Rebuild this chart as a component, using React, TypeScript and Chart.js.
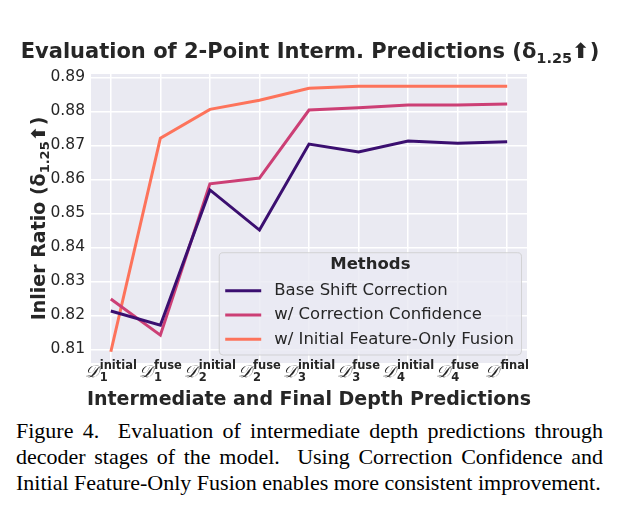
import React, { useEffect, useRef } from "react";
import { Chart, registerables } from "chart.js";
Chart.register(...registerables);

const stages = ["initial", "fuse", "initial", "fuse", "initial", "fuse", "initial", "fuse", "final"];
const stageIndex = ["1", "1", "2", "2", "3", "3", "4", "4", ""];
const seriesNames = ["Base Shift Correction", "w/ Correction Confidence", "w/ Initial Feature-Only Fusion"];
const baseShift = [0.8213, 0.8171, 0.8569, 0.8451, 0.8704, 0.8681, 0.8713, 0.8706, 0.8711];
const corrConf = [0.8248, 0.8142, 0.8587, 0.8604, 0.8804, 0.8811, 0.8819, 0.8819, 0.8822];
const initFusion = [0.8093, 0.8721, 0.8806, 0.8833, 0.8868, 0.8874, 0.8874, 0.8874, 0.8874];
const yTicks = [0.81, 0.82, 0.83, 0.84, 0.85, 0.86, 0.87, 0.88, 0.89];
const colors = ["#3b0f70", "#cc3f75", "#fd735b"];

const TEXT = "#262626";
const SANS = '"DejaVu Sans", sans-serif';

type Seg = { t: string; f: string; dy?: number };

function drawRich(ctx: CanvasRenderingContext2D, segs: Seg[], cx: number, y: number) {
  let w = 0;
  for (const s of segs) { ctx.font = s.f; w += ctx.measureText(s.t).width; }
  let x = cx - w / 2;
  ctx.textAlign = "left";
  ctx.textBaseline = "alphabetic";
  for (const s of segs) {
    ctx.font = s.f;
    ctx.fillText(s.t, x, y + (s.dy || 0));
    x += ctx.measureText(s.t).width;
  }
}

const deco = {
  id: "deco",
  beforeDraw(chart: any) {
    const { ctx, chartArea: a } = chart;
    ctx.save();
    ctx.fillStyle = "#eaeaf2";
    ctx.fillRect(a.left, a.top, a.right - a.left, a.bottom - a.top);
    ctx.restore();
  },
  afterDraw(chart: any) {
    const { ctx, chartArea: a } = chart;
    const xs = chart.scales.x;
    ctx.save();
    ctx.fillStyle = TEXT;
    // title
    drawRich(ctx, [
      { t: "Evaluation of 2-Point Interm. Predictions (δ", f: `bold 21px ${SANS}` },
      { t: "1.25", f: `bold 14.5px ${SANS}`, dy: 5 },
      { t: "⬆)", f: `bold 21px ${SANS}` },
    ], 310, 58);
    // y label
    ctx.save();
    ctx.translate(45, (a.top + a.bottom) / 2);
    ctx.rotate(-Math.PI / 2);
    drawRich(ctx, [
      { t: "Inlier Ratio (δ", f: `bold 19px ${SANS}` },
      { t: "1.25", f: `bold 13px ${SANS}`, dy: 4 },
      { t: "⬆)", f: `bold 19px ${SANS}` },
    ], 0, 0);
    ctx.restore();
    // x tick labels
    stages.forEach((st, i) => {
      const px = xs.getPixelForValue(i);
      const dFont = `italic 17px "DejaVu Serif", serif`;
      const supFont = `bold 11.5px ${SANS}`;
      const subFont = `bold 11.5px ${SANS}`;
      ctx.font = dFont;
      const wD = ctx.measureText("𝒟").width;
      ctx.font = supFont;
      const wSup = ctx.measureText(st).width;
      ctx.font = subFont;
      const wSub = ctx.measureText(stageIndex[i]).width;
      const w = wD + 1 + Math.max(wSup, wSub);
      const x0 = px - w / 2;
      ctx.textAlign = "left";
      ctx.textBaseline = "alphabetic";
      ctx.font = dFont;
      ctx.fillText("𝒟", x0, 377);
      ctx.font = supFont;
      ctx.fillText(st, x0 + wD + 1, 369);
      if (stageIndex[i]) {
        ctx.font = subFont;
        ctx.fillText(stageIndex[i], x0 + wD + 1, 381);
      }
    });
    // x title
    drawRich(ctx, [{ t: "Intermediate and Final Depth Predictions", f: `bold 19px ${SANS}` }], (a.left + a.right) / 2, 405);
    // legend
    ctx.font = `16.5px ${SANS}`;
    let tw = 0;
    seriesNames.forEach((n) => { tw = Math.max(tw, ctx.measureText(n).width); });
    const right = a.right - 5.5;
    const bottom = a.bottom - 8;
    const lw = 6 + 36 + 13 + tw + 7.5;
    const lh = 102.3;
    const left = right - lw;
    const top = bottom - lh;
    ctx.beginPath();
    ctx.roundRect(left, top, lw, lh, 4);
    ctx.fillStyle = "rgba(234,234,242,0.8)";
    ctx.fill();
    ctx.strokeStyle = "rgba(204,204,204,0.8)";
    ctx.lineWidth = 1;
    ctx.stroke();
    ctx.fillStyle = TEXT;
    ctx.font = `bold 16.5px ${SANS}`;
    ctx.textAlign = "center";
    ctx.textBaseline = "middle";
    ctx.fillText("Methods", left + lw / 2, top + 12.5);
    seriesNames.forEach((n, k) => {
      const yy = top + 38 + k * 24.3;
      ctx.strokeStyle = colors[k];
      ctx.lineWidth = 3;
      ctx.beginPath();
      ctx.moveTo(left + 6, yy);
      ctx.lineTo(left + 42, yy);
      ctx.stroke();
      ctx.fillStyle = TEXT;
      ctx.font = `16.5px ${SANS}`;
      ctx.textAlign = "left";
      ctx.fillText(n, left + 55, yy);
    });
    ctx.restore();
  },
};

export default function App() {
  const ref = useRef<HTMLCanvasElement | null>(null);
  useEffect(() => {
    const canvas = ref.current!;
    const all = [baseShift, corrConf, initFusion];
    const chart = new Chart(canvas, {
      type: "line",
      data: {
        datasets: all.map((s, k) => ({
          label: seriesNames[k],
          data: s.map((v, i) => ({ x: i, y: v })),
          borderColor: colors[k],
          backgroundColor: colors[k],
          borderWidth: 3,
          pointRadius: 0,
          tension: 0,
          fill: false,
        })),
      },
      options: {
        responsive: false,
        animation: false,
        layout: { padding: { top: 74, right: 103, bottom: 49, left: 0 } },
        plugins: { legend: { display: false }, title: { display: false }, tooltip: { enabled: false } },
        scales: {
          x: {
            type: "linear",
            min: -0.4,
            max: 8.4,
            afterBuildTicks: (s: any) => { s.ticks = stages.map((_, i) => ({ value: i })); },
            afterFit: (s: any) => { s.height = 0; },
            ticks: { display: false },
            grid: { color: "#ffffff", lineWidth: 1.5, drawTicks: false },
            border: { display: false },
          },
          y: {
            type: "linear",
            min: 0.806,
            max: 0.891,
            afterBuildTicks: (s: any) => { s.ticks = yTicks.map((v) => ({ value: v })); },
            afterFit: (s: any) => { s.width = 91; },
            ticks: {
              font: { family: "DejaVu Sans", size: 15.5 },
              color: TEXT,
              padding: 6,
              callback: (v: any) => Number(v).toFixed(2),
            },
            grid: { color: "#ffffff", lineWidth: 1.5, drawTicks: false },
            border: { display: false },
          },
        },
      } as any,
      plugins: [deco],
    });
    return () => chart.destroy();
  }, []);

  const cap: React.CSSProperties = {
    fontFamily: '"Liberation Serif", serif',
    fontSize: 22,
    lineHeight: "26px",
    color: "#000",
    whiteSpace: "nowrap",
  };
  const just: React.CSSProperties = { ...cap, textAlign: "justify", textAlignLast: "justify" as any, whiteSpace: "normal" };

  return (
    <div style={{ position: "fixed", left: 0, top: 0, width: 630, height: 509, background: "#fff" }}>
      <canvas ref={ref} width={630} height={412} style={{ width: 630, height: 412, display: "block" }} />
      <div style={{ position: "absolute", left: 16, top: 418, width: 587 }}>
        <div style={just}>Figure 4.{"\u00a0 "}Evaluation of intermediate depth predictions through</div>
        <div style={just}>decoder stages of the model.{"\u00a0 "}Using Correction Confidence and</div>
        <div style={cap}>Initial Feature-Only Fusion enables more consistent improvement.</div>
      </div>
    </div>
  );
}
